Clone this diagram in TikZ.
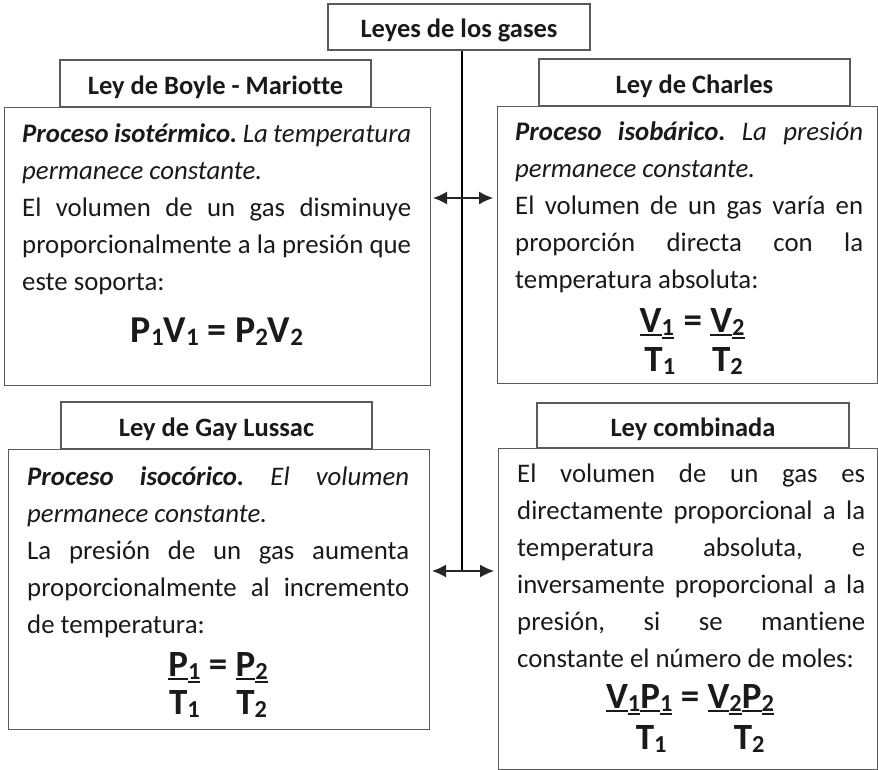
\documentclass[tikz,border=0pt]{standalone}
\usepackage{fontspec}
\setmainfont{Carlito}[Ligatures={CommonOff}]
\usepackage{graphicx}
\usetikzlibrary{arrows.meta}
\definecolor{bord}{HTML}{5A5A5A}
\definecolor{ink}{HTML}{1A1A1A}
\frenchspacing
\newcommand\J[2]{\makebox[#1][s]{\strut#2}}
\newcommand\sbs[1]{\raisebox{-0.09em}{\scalebox{0.66}{#1}}}
\newcommand\ul[1]{\vtop{\hbox{#1}\kern2pt\hrule height 1.8pt}}
\newcommand\fr[3][39pt]{\vtop{\baselineskip=#1\lineskiplimit=-\maxdimen\lineskip=0pt\halign{\hfil##\hfil\cr#2\cr#3\cr}}}
\begin{document}
\begin{tikzpicture}[x=1pt,y=-1pt,
  box/.style={draw=bord,line width=1.1pt,inner sep=0pt},
  hdr/.style={box,font=\fontsize{26.5}{30}\selectfont\bfseries,text=ink,text height=24pt,text depth=2pt},
  txt/.style={inner sep=0pt,anchor=north west,align=left,text=ink,font=\fontsize{26.8}{37}\selectfont},
  frm/.style={inner sep=0pt,anchor=base,text=ink,font=\fontsize{37}{39}\selectfont\bfseries},
  conn/.style={line width=2pt,black},
  arr/.style={line width=1.2pt,black!85,{Latex[length=14pt,width=13pt]}-{Latex[length=14pt,width=13pt]}}]
\useasboundingbox (0,0) rectangle (878,770);

% title
\node[hdr,minimum width=262pt,minimum height=46pt] (title) at (459,27) {Leyes de los gases};

% Boyle
\node[hdr,minimum width=311pt,minimum height=47pt] (boyleH) at (215.5,83.5) {Ley de Boyle - Mariotte};
\node[box,anchor=north west,minimum width=426pt,minimum height=278pt] (boyleB) at (4,107) {};
\node[txt] (boyleT) at (22,116.1) {\J{389pt}{\textbf{\textit{Proceso isotérmico.}} \textit{La temperatura}}\\\strut\textit{permanece constante.}\\\J{389pt}{El volumen de un gas disminuye}\\\J{389pt}{proporcionalmente a la presión que}\\\strut este soporta:};
\node[frm,font=\fontsize{38}{40}\selectfont\bfseries] (boyleF) at (217,342) {P\sbs{1}V\sbs{1} = P\sbs{2}V\sbs{2}};

% Charles
\node[hdr,minimum width=311pt,minimum height=47pt] (charH) at (694.5,82.5) {Ley de Charles};
\node[box,anchor=north west,minimum width=380pt,minimum height=277pt] (charB) at (497,106) {};
\node[txt] (charT) at (515,114.1) {\J{348pt}{\textbf{\textit{Proceso isobárico.}} \textit{La presión}}\\\strut\textit{permanece constante.}\\\J{348pt}{El volumen de un gas varía en}\\\J{348pt}{proporción directa con la}\\\strut temperatura absoluta:};
\node[frm] (charF) at (691.5,332) {\fr{\ul{V}\ul{\sbs{1}}}{\hskip6pt T\sbs{1}} = \fr{\ul{V}\ul{\sbs{2}}}{T\sbs{2}}};

% Gay Lussac
\node[hdr,minimum width=311pt,minimum height=47pt] (gayH) at (216.5,425.5) {Ley de Gay Lussac};
\node[box,anchor=north west,minimum width=421pt,minimum height=280pt] (gayB) at (8,449) {};
\node[txt] (gayT) at (27,459.1) {\J{382pt}{\textbf{\textit{Proceso isocórico.}} \textit{El volumen}}\\\strut\textit{permanece constante.}\\\J{382pt}{La presión de un gas aumenta}\\\J{382pt}{proporcionalmente al incremento}\\\strut de temperatura:};
\node[frm] (gayF) at (218,676) {\fr[38pt]{\ul{P}\ul{\sbs{1}}}{T\sbs{1}} = \fr[38pt]{\ul{P}\ul{\sbs{2}}}{T\sbs{2}}};

% Combinada
\node[hdr,minimum width=312pt,minimum height=45pt] (combH) at (693,425.5) {Ley combinada};
\node[box,anchor=north west,minimum width=379pt,minimum height=321pt] (combB) at (498,448) {};
\node[txt] (combT) at (517,456.1) {\J{348pt}{El volumen de un gas es}\\\J{348pt}{directamente proporcional a la}\\\J{348pt}{temperatura absoluta, e}\\\J{348pt}{inversamente proporcional a la}\\\J{348pt}{presión, si se mantiene}\\\strut constante el número de moles:};
\node[frm] (combF) at (690,708) {\fr[41pt]{\ul{V}\ul{\sbs{1}}\ul{P}\ul{\sbs{1}}}{\hskip24pt T\sbs{1}} = \fr[41pt]{\ul{V}\ul{\sbs{2}}\ul{P}\ul{\sbs{2}}}{\hskip17pt T\sbs{2}}};

% connectors
\coordinate (j1) at (462,198);
\coordinate (j2) at (462,571);
\draw[conn] (title.south -| j2) -- (j2);
\draw[arr,shorten <=2pt,shorten >=4pt] (boyleB.east |- j1) -- (charB.west |- j1);
\draw[arr,shorten <=2pt,shorten >=4pt] (gayB.east |- j2) -- (combB.west |- j2);
\end{tikzpicture}
\end{document}
